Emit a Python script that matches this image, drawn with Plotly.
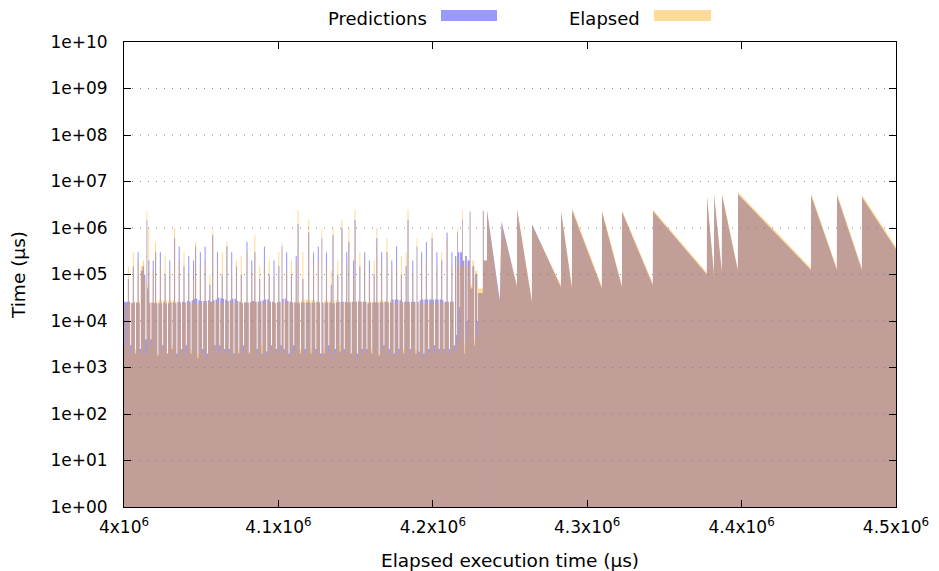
import plotly.graph_objects as go

# ---- data (x in thousands of microseconds) ----
# Dense, noisy part of the run (drawn as steps: each sample holds until the next one)
step_time_k = [
    4000.0, 4000.8, 4001.5, 4002.5, 4003.2, 4004.0, 4004.7, 4005.7, 4006.4, 4007.1, 4007.8, 4008.8, 4009.5, 4010.2,
    4010.9, 4012.0, 4013.0, 4013.8, 4014.6, 4015.1, 4015.7, 4016.4, 4017.1, 4017.8, 4018.6, 4019.3, 4020.1, 4020.8,
    4021.6, 4022.3, 4023.2, 4023.9, 4024.7, 4025.4, 4026.3, 4027.0, 4027.8, 4028.5, 4029.3, 4030.0,
    4030.8, 4031.5, 4032.4, 4033.1, 4033.9, 4034.6, 4035.4, 4036.1, 4036.9, 4037.6, 4038.5, 4039.2,
    4040.0, 4040.7, 4041.6, 4042.3, 4043.1, 4043.8, 4044.7, 4045.4, 4046.0, 4046.7, 4047.5, 4048.2, 4049.1,
    4049.8, 4050.6, 4051.3, 4052.2, 4052.9, 4053.7, 4054.4, 4055.3, 4056.0, 4057.1, 4057.8, 4058.6, 4059.3,
    4060.2, 4060.9, 4061.7, 4062.4, 4063.3, 4064.0, 4064.8, 4065.5, 4066.3, 4067.0, 4067.8, 4068.5, 4069.4,
    4070.1, 4070.9, 4071.6, 4072.5, 4073.2, 4074.0, 4074.7, 4075.6, 4076.3, 4077.1, 4077.8, 4079.3, 4080.0,
    4080.8, 4081.5, 4082.4, 4083.1, 4084.4, 4085.1, 4085.9, 4086.6, 4087.5, 4088.2, 4089.0, 4089.7,
    4090.6, 4091.3, 4092.1, 4092.8, 4093.7, 4094.4, 4095.2, 4095.9, 4096.8, 4097.5, 4098.3, 4099.0,
    4099.9, 4100.6, 4101.4, 4102.1, 4102.6, 4103.4, 4104.1, 4105.0, 4105.7, 4106.5, 4107.2, 4108.1, 4108.8, 4109.6,
    4110.3, 4111.2, 4111.9, 4112.4, 4113.1, 4113.9, 4114.6, 4115.5, 4116.2, 4117.0, 4117.7, 4119.3, 4120.0,
    4120.8, 4121.5, 4122.4, 4123.1, 4123.9, 4124.6, 4125.5, 4126.2, 4127.0, 4127.9, 4128.4, 4129.2, 4129.9, 4130.8,
    4131.5, 4132.3, 4133.0, 4133.9, 4134.6, 4135.0, 4135.7, 4136.5, 4137.2, 4138.1, 4138.8, 4139.6, 4140.3,
    4140.8, 4141.5, 4142.3, 4143.0, 4143.9, 4144.6, 4145.3, 4146.0, 4146.8, 4147.5, 4148.3, 4149.0, 4149.3,
    4150.0, 4150.8, 4151.5, 4152.4, 4153.1, 4153.9, 4154.6, 4155.5, 4156.2, 4157.0, 4157.7, 4158.6, 4159.3,
    4160.1, 4160.8, 4161.7, 4162.4, 4163.4, 4164.1, 4164.9, 4165.6, 4166.5, 4167.2, 4168.0, 4168.7, 4170.0,
    4170.7, 4171.5, 4172.2, 4173.1, 4173.8, 4174.6, 4175.3, 4176.2, 4176.9, 4177.7, 4178.4, 4179.3, 4180.0,
    4180.8, 4181.5, 4182.4, 4183.1, 4183.6, 4184.3, 4185.1, 4185.8, 4186.7, 4187.4, 4188.7, 4189.5, 4190.0,
    4190.8, 4191.5, 4192.4, 4193.1, 4193.9, 4194.6, 4195.5, 4196.2, 4197.0, 4197.7, 4199.2, 4199.9,
    4200.7, 4201.4, 4202.3, 4203.0, 4203.8, 4204.5, 4205.4, 4206.1, 4206.9, 4207.6, 4208.9, 4209.6, 4210.4,
    4211.1, 4212.0, 4212.7, 4213.5,
    4214.4, 4215.2, 4215.7, 4216.2, 4217.2, 4217.7, 4218.9, 4219.4, 4220.4, 4220.9, 4222.0,
    4222.5, 4223.9, 4224.4, 4225.6, 4226.8, 4227.3, 4228.8, 4229.3, 4232.4, 4233.0, 4235.1,
]
step_elapsed_us = [
    2.2e4, 3.0e3, 2.3e4, 1.5e5, 2.4e4, 2.0e3, 2.5e4, 3.0e5, 2.6e4, 2.5e3, 2.5e4, 2.0e5, 2.7e4, 2.0e3,
    1.5e5, 2.0e5, 8.0e4, 2.0e3, 2.4e6, 6.0e4, 1.0e6, 2.5e4, 3.0e3, 2.6e4, 1.2e5, 2.5e4, 5.0e5, 2.6e4,
    2.0e3, 2.8e4, 1.5e5, 2.8e4, 2.5e3, 2.8e4, 2.5e5, 2.8e4, 2.0e3, 2.7e4, 1.2e5, 2.8e4,
    3.0e3, 2.8e4, 1.0e6, 2.6e4, 1.8e3, 2.5e4, 2.0e5, 2.5e4, 2.2e3, 2.4e4, 3.0e5, 2.4e4,
    2.0e3, 2.4e4, 1.0e5, 2.4e4, 2.5e3, 2.4e4, 8.0e4, 2.3e4, 5.0e5, 2.3e4, 2.0e3, 2.4e4, 1.5e5,
    2.4e4, 2.0e3, 2.5e4, 2.0e5, 2.5e4, 1.6e3, 2.6e4, 1.0e5, 2.5e4, 9.0e5, 2.6e4, 2.5e3, 2.5e4,
    1.5e5, 2.5e4, 2.0e3, 2.5e4, 3.0e5, 2.4e4, 2.2e3, 2.4e4, 5.0e5, 2.6e4, 2.0e3, 2.6e4, 1.0e5,
    2.5e4, 1.8e3, 2.5e4, 2.0e5, 2.6e4, 2.5e3, 2.6e4, 2.5e5, 2.5e4, 2.0e3, 2.5e4, 3.0e5, 2.5e4,
    2.2e3, 2.6e4, 1.2e5, 2.6e4, 7.0e5, 2.5e4, 2.0e3, 2.5e4, 1.5e5, 2.5e4, 3.0e3, 2.5e4,
    1.5e5, 2.4e4, 1.8e3, 2.4e4, 2.0e5, 2.6e4, 2.5e3, 2.6e4, 8.0e4, 2.5e4, 2.0e3, 2.5e4,
    3.0e5, 2.5e4, 2.5e3, 5.0e5, 2.5e4, 2.0e3, 2.5e4, 1.2e5, 2.6e4, 1.8e3, 2.6e4, 2.0e5, 2.5e4, 2.0e3,
    2.6e4, 1.5e5, 2.6e4, 2.4e6, 2.6e4, 2.5e3, 2.7e4, 3.0e5, 2.9e4, 2.0e3, 2.9e4, 1.5e6, 2.8e4,
    2.5e3, 2.8e4, 1.5e5, 2.8e4, 2.0e3, 2.5e4, 2.0e5, 2.5e4, 1.8e3, 1.0e6, 2.5e4, 2.5e3, 2.8e4, 1.5e5,
    2.7e4, 2.0e3, 2.6e4, 1.2e5, 2.6e4, 1.0e6, 2.8e4, 2.0e3, 2.8e4, 2.0e5, 2.5e4, 3.0e3, 2.5e4,
    1.5e6, 2.4e4, 2.0e3, 2.5e4, 1.5e5, 2.6e4, 1.0e6, 2.6e4, 2.0e3, 2.6e4, 8.0e4, 2.5e4, 2.5e6,
    2.5e4, 1.5e3, 2.8e4, 3.0e5, 2.6e4, 2.0e3, 2.6e4, 2.0e5, 2.5e4, 2.2e3, 2.6e4, 1.0e5, 2.6e4,
    2.5e3, 2.6e4, 2.0e5, 2.6e4, 1.0e6, 2.6e4, 2.0e3, 2.8e4, 1.5e5, 2.8e4, 2.5e3, 2.6e4, 6.0e5,
    2.6e4, 2.0e3, 2.8e4, 1.2e5, 2.4e4, 1.8e3, 2.4e4, 1.5e5, 2.4e4, 2.0e3, 2.5e4, 2.5e5, 2.5e4,
    2.5e3, 2.5e4, 3.0e5, 2.5e4, 2.5e6, 2.5e4, 2.0e3, 2.5e4, 1.0e5, 2.5e4, 2.5e3, 6.0e5, 2.5e4,
    2.0e3, 2.4e4, 1.5e5, 2.4e4, 1.6e3, 2.3e4, 2.0e5, 2.3e4, 2.0e3, 2.4e4, 8.0e5, 2.4e4,
    2.0e3, 2.4e4, 1.5e5, 2.4e4, 2.2e3, 2.5e4, 3.0e5, 2.4e4, 2.0e3, 2.5e4, 6.0e5, 2.6e4, 2.0e3,
    2.6e4, 1.5e5, 2.5e4, 2.2e3,
    1.5e5, 3.0e3, 1.0e6, 2.0e5, 4.0e3, 1.5e5, 2.4e6, 1.5e5, 3.0e3, 2.0e5, 5.0e3,
    1.5e5, 2.4e6, 6.0e4, 2.0e5, 4.0e3, 1.2e5, 5.0e3, 5.0e4, 2.4e6, 2.0e5, 2.4e6,
]
step_predicted_us = [
    2.6e4, 2.5e4, 2.6e4, 8.0e4, 2.6e4, 3.0e3, 2.4e4, 1.5e5, 2.5e4, 2.0e3, 2.5e4, 3.0e5, 2.4e4, 2.5e3,
    1.2e5, 1.5e5, 1.0e5, 4.0e3, 1.5e6, 5.0e4, 2.0e5, 2.4e4, 4.0e3, 2.5e4, 2.0e5, 2.4e4, 3.0e5, 2.4e4,
    1.8e3, 2.4e4, 3.0e5, 2.4e4, 3.0e3, 2.5e4, 1.0e5, 2.4e4, 2.0e3, 2.4e4, 2.0e5, 2.5e4,
    2.5e3, 2.5e4, 6.0e5, 2.4e4, 2.0e3, 2.6e4, 4.0e5, 2.5e4, 2.5e3, 2.6e4, 1.5e5, 2.5e4,
    3.0e3, 2.7e4, 2.5e5, 2.6e4, 2.0e3, 2.8e4, 2.0e5, 3.0e4, 4.0e5, 3.0e4, 1.6e3, 2.8e4, 3.0e5,
    2.7e4, 2.5e3, 2.7e4, 4.0e5, 2.7e4, 2.0e3, 2.8e4, 6.0e4, 2.6e4, 7.0e5, 2.8e4, 3.0e3, 2.9e4,
    3.0e5, 3.2e4, 3.0e3, 3.1e4, 1.0e5, 3.0e4, 2.5e3, 2.9e4, 4.0e5, 2.7e4, 2.5e3, 2.8e4, 3.0e5,
    3.0e4, 2.0e3, 3.0e4, 1.5e5, 2.7e4, 2.0e3, 2.6e4, 1.0e5, 2.4e4, 3.0e3, 2.5e4, 5.0e5, 2.5e4,
    2.0e3, 2.5e4, 2.0e5, 2.7e4, 3.0e5, 2.6e4, 2.5e3, 2.6e4, 8.0e4, 2.7e4, 2.0e3, 2.8e4,
    4.0e5, 2.9e4, 2.2e3, 2.9e4, 1.0e5, 2.6e4, 3.0e3, 2.6e4, 2.0e5, 2.4e4, 2.5e3, 2.5e4,
    1.5e5, 2.6e4, 3.0e3, 4.0e5, 3.0e4, 2.5e3, 3.0e4, 3.0e5, 2.7e4, 2.0e3, 2.6e4, 1.0e5, 2.5e4, 3.0e3,
    2.5e4, 2.5e5, 2.4e4, 1.2e6, 2.4e4, 2.0e3, 2.5e4, 8.0e4, 2.5e4, 2.5e3, 2.5e4, 8.0e5, 2.5e4,
    2.0e3, 2.5e4, 3.0e5, 2.5e4, 2.5e3, 2.6e4, 4.0e5, 2.5e4, 2.0e3, 6.0e5, 2.5e4, 2.0e3, 2.5e4, 3.0e5,
    2.5e4, 3.0e3, 2.5e4, 6.0e4, 2.4e4, 7.0e5, 2.4e4, 2.5e3, 2.5e4, 1.0e5, 2.6e4, 2.2e3, 2.6e4,
    1.0e6, 2.6e4, 2.5e3, 2.6e4, 3.0e5, 2.5e4, 5.0e5, 2.5e4, 2.0e3, 2.6e4, 2.0e5, 2.6e4, 1.5e6,
    2.6e4, 2.0e3, 2.6e4, 1.5e5, 2.6e4, 2.5e3, 2.6e4, 3.0e5, 2.6e4, 2.5e3, 2.4e4, 2.0e5, 2.5e4,
    2.0e3, 2.5e4, 1.0e5, 2.5e4, 6.0e5, 2.5e4, 1.8e3, 2.5e4, 3.0e5, 2.5e4, 3.0e3, 2.6e4, 3.0e5,
    2.5e4, 2.5e3, 2.5e4, 2.0e5, 2.9e4, 2.0e3, 2.9e4, 4.0e5, 2.9e4, 2.5e3, 2.8e4, 1.0e5, 2.6e4,
    2.0e3, 2.6e4, 1.5e5, 2.6e4, 1.5e6, 2.6e4, 2.5e3, 2.6e4, 2.0e5, 2.6e4, 2.0e3, 4.0e5, 2.6e4,
    2.2e3, 2.8e4, 3.0e5, 2.9e4, 2.0e3, 2.9e4, 5.0e5, 2.9e4, 2.5e3, 2.9e4, 6.0e5, 2.9e4,
    3.0e3, 2.9e4, 3.0e5, 2.9e4, 2.5e3, 2.9e4, 2.0e5, 2.8e4, 2.5e3, 2.6e4, 8.0e5, 2.6e4, 2.5e3,
    2.6e4, 3.0e5, 2.6e4, 3.0e3,
    2.5e5, 5.0e3, 8.0e5, 3.0e5, 2.0e4, 3.0e5, 1.5e6, 2.0e5, 2.0e3, 2.5e5, 1.0e4,
    2.0e5, 2.2e6, 5.0e4, 1.5e5, 3.0e3, 1.0e5, 1.0e4, 4.0e4, 2.3e6, 2.0e5, 2.4e6,
]

# Sawtooth part of the run (drawn with straight segments)
saw_time_k = [
    4235.1, 4243.4, 4244.5, 4254.5, 4254.6, 4264.2, 4264.3, 4283.0, 4283.1, 4290.1,
    4290.2, 4309.5, 4309.6, 4322.5, 4322.6, 4342.5, 4342.6, 4377.5, 4377.6, 4382.1,
    4382.2, 4387.2, 4387.3, 4397.6, 4397.7, 4444.9, 4445.0, 4461.7, 4461.8, 4477.9,
    4478.0, 4500.0,
]
saw_elapsed_us = [
    2.4e6, 2.4e4, 1.25e6, 5.9e4, 2.7e6, 2.8e4, 1.15e6, 5.9e4, 2.4e6, 5.6e4,
    2.7e6, 5.6e4, 2.4e6, 5.9e4, 2.4e6, 6.6e4, 2.5e6, 1.1e5, 5.1e6, 1.1e5,
    5.5e6, 1.25e5, 5.6e6, 1.3e5, 5.9e6, 1.38e5, 5.5e6, 1.38e5, 5.5e6, 1.38e5,
    5.1e6, 3.9e5,
]
saw_predicted_us = [
    2.4e6, 2.8e4, 1.4e6, 5.4e4, 2.5e6, 2.5e4, 1.2e6, 5.3e4, 2.2e6, 5.0e4,
    2.4e6, 5.0e4, 2.2e6, 5.3e4, 2.2e6, 5.9e4, 2.3e6, 1.0e5, 4.6e6, 1.0e5,
    5.0e6, 1.1e5, 5.1e6, 1.2e5, 5.3e6, 1.25e5, 5.0e6, 1.25e5, 5.0e6, 1.25e5,
    4.6e6, 3.5e5,
]

x_ticks = [4.0e6, 4.1e6, 4.2e6, 4.3e6, 4.4e6, 4.5e6]
x_tick_text = ["4x10<sup>6</sup>", "4.1x10<sup>6</sup>", "4.2x10<sup>6</sup>",
               "4.3x10<sup>6</sup>", "4.4x10<sup>6</sup>", "4.5x10<sup>6</sup>"]
y_ticks = [1e0, 1e1, 1e2, 1e3, 1e4, 1e5, 1e6, 1e7, 1e8, 1e9, 1e10]
y_tick_text = ["1e+00", "1e+01", "1e+02", "1e+03", "1e+04", "1e+05",
               "1e+06", "1e+07", "1e+08", "1e+09", "1e+10"]

PRED_FILL = "rgba(0,0,255,0.4)"
ELAP_FILL = "rgba(255,165,0,0.4)"
FONT = "DejaVu Sans"


def area(xk, y, color, shape):
    # polygon closed down to the bottom of the log axis (y = 1)
    x = [v * 1000 for v in xk]
    px = [x[0]] + x + [x[-1]]
    py = [1.0] + list(y) + [1.0]
    return go.Scatter(x=px, y=py, mode="lines", fill="toself", fillcolor=color,
                      line=dict(width=0, color=color, simplify=False, shape=shape),
                      showlegend=False, hoverinfo="skip")


fig = go.Figure()
fig.add_trace(area(step_time_k, step_predicted_us, PRED_FILL, "hv"))
fig.add_trace(area(saw_time_k, saw_predicted_us, PRED_FILL, "linear"))
fig.add_trace(area(step_time_k, step_elapsed_us, ELAP_FILL, "hv"))
fig.add_trace(area(saw_time_k, saw_elapsed_us, ELAP_FILL, "linear"))

# dotted horizontal grid drawn above the fills
gx, gy = [], []
for v in y_ticks[1:-1]:
    gx += [x_ticks[0], x_ticks[-1], None]
    gy += [v, v, None]
fig.add_trace(go.Scatter(x=gx, y=gy, mode="lines", showlegend=False, hoverinfo="skip",
                         line=dict(color="rgba(110,110,110,0.8)", width=1, dash="1px,7px")))

axis_common = dict(showline=True, linecolor="black", linewidth=1, mirror="ticks",
                   ticks="inside", ticklen=7, tickcolor="black", tickwidth=1,
                   showgrid=False, zeroline=False, automargin=False,
                   tickfont=dict(family=FONT, size=17, color="black"))

fig.update_xaxes(range=[x_ticks[0], x_ticks[-1]], tickvals=x_ticks, ticktext=x_tick_text,
                 ticklabelstandoff=5,
                 title=dict(text="Elapsed execution time (µs)",
                            font=dict(family=FONT, size=18.5, color="black"), standoff=19),
                 **axis_common)
fig.update_yaxes(type="log", range=[0, 10], tickvals=y_ticks, ticktext=y_tick_text,
                 ticklabelstandoff=12,
                 title=dict(text="Time (µs)", font=dict(family=FONT, size=18.5, color="black"),
                            standoff=21),
                 **axis_common)

# The page body has an 8px margin, so the figure is sized/offset to land the
# plot area at x 124..896, y 42..507 of the 939x571 window.
PAGE = 8
FIG_W, FIG_H = 939 - PAGE, 571 - PAGE
L, R, T, B = 124, 896, 42, 507
W, H = R - L, B - T


def px2paper(px, py):
    return (px - L) / W, (B - py) / H


# gnuplot-style key: text then swatch
legend_items = [("Predictions", PRED_FILL, 428, 441, 497), ("Elapsed", ELAP_FILL, 641, 654, 711)]
for text, color, tx, s0, s1 in legend_items:
    ax_, ay_ = px2paper(tx, 18)
    fig.add_annotation(x=ax_, y=ay_, xref="paper", yref="paper", text=text, showarrow=False,
                       xanchor="right", yanchor="middle", borderpad=0,
                       font=dict(family=FONT, size=18, color="black"))
    x0, y0 = px2paper(s0, 21)
    x1, y1 = px2paper(s1, 10)
    fig.add_shape(type="rect", xref="paper", yref="paper", x0=x0, x1=x1, y0=y0, y1=y1,
                  fillcolor=color, line=dict(width=0))

fig.update_layout(width=FIG_W, height=FIG_H,
                  margin=dict(l=L - PAGE, r=939 - R, t=T - PAGE, b=571 - B),
                  plot_bgcolor="white", paper_bgcolor="white", showlegend=False,
                  font=dict(family=FONT, size=17, color="black"))

fig.write_html("out.html")
